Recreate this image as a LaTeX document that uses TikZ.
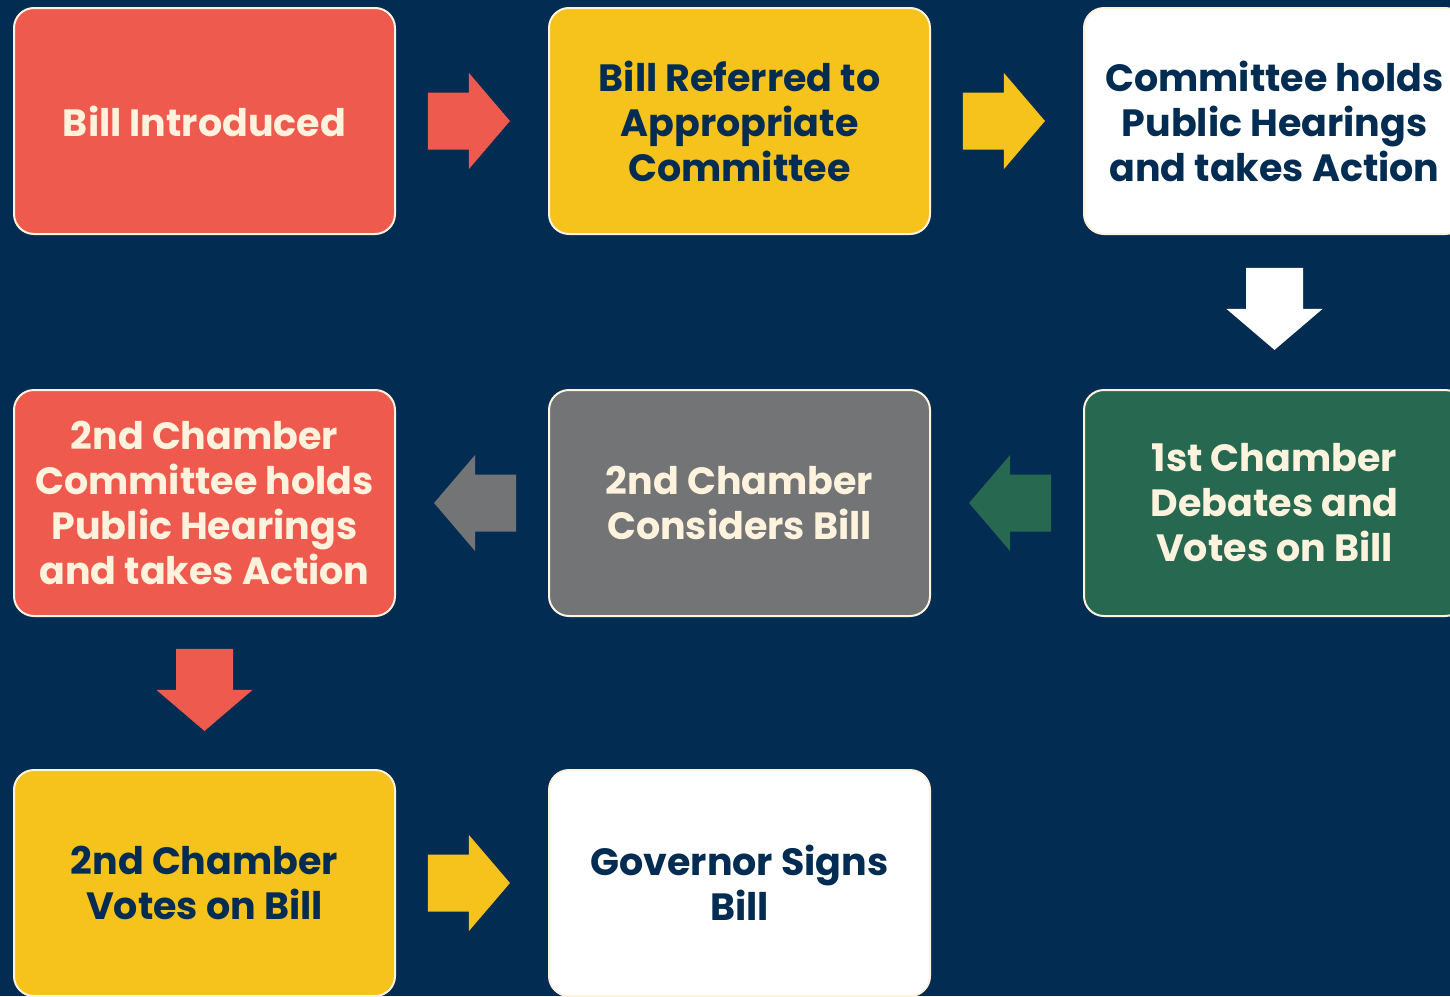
\documentclass[tikz,border=0pt]{standalone}
\usepackage{fontspec}
\setmainfont{Poppins}
\usetikzlibrary{positioning}
\definecolor{navyblue}{RGB}{2,44,82}
\definecolor{billred}{RGB}{239,90,79}
\definecolor{billyellow}{RGB}{246,194,28}
\definecolor{billgreen}{RGB}{39,104,80}
\definecolor{billgray}{RGB}{115,116,118}
\definecolor{creamtext}{RGB}{255,243,222}

\tikzset{
  stage/.style={draw=creamtext, line width=1pt, rounded corners=10pt,
    minimum width=190.5pt, minimum height=113pt, inner sep=0pt,
    align=center, font=\bfseries\fontsize{19}{22.5}\selectfont},
  lighttext/.style={text=creamtext},
  darktext/.style={text=navyblue},
}

% block arrow: colour, from, to, angle
\newcommand{\flowarrow}[4]{%
  \path (#2) -- (#3) coordinate[pos=0.48] (mid);
  \fill[#1, shift={(mid)}, rotate=#4] (-41,-28.5) -- (0,-28.5) -- (0,-48) -- (41,0) -- (0,48) -- (0,28.5) -- (-41,28.5) -- cycle;}

\begin{document}
\begin{tikzpicture}[x=0.5pt,y=-0.5pt]
%uncomment if require: \path (0,996); %diagram is 1450 by 996
\fill[navyblue] (0,0) rectangle (1450,996);
\useasboundingbox (0,0) rectangle (1450,996);
\clip (0,0) rectangle (1450,996);

%Shape: Rounded Rect [row 1]
\node[stage, fill=billred, lighttext] (introduced) at (204.5,121) {Bill Introduced};
\node[stage, fill=billyellow, darktext, right=76pt of introduced] (referred) {Bill Referred to\\Appropriate\\Committee};
\node[stage, fill=white, darktext, right=76pt of referred] (hearings) {Committee holds\\Public Hearings\\and takes Action};
%Shape: Rounded Rect [row 2]
\node[stage, fill=billgreen, lighttext, below=77pt of hearings] (firstvote) {1st Chamber\\Debates and\\Votes on Bill};
\node[stage, fill=billgray, lighttext, left=76pt of firstvote] (considers) {2nd Chamber\\Considers Bill};
\node[stage, fill=billred, lighttext, left=76pt of considers] (secondhearings) {2nd Chamber\\Committee holds\\Public Hearings\\and takes Action};
%Shape: Rounded Rect [row 3]
\node[stage, fill=billyellow, darktext, below=76pt of secondhearings] (secondvote) {2nd Chamber\\Votes on Bill};
\node[stage, fill=white, darktext, right=76pt of secondvote] (governor) {Governor Signs\\Bill};

%Shape: Block Arrows
\flowarrow{billred}{introduced.east}{referred.west}{0}
\flowarrow{billyellow}{referred.east}{hearings.west}{0}
\flowarrow{white}{hearings.south}{firstvote.north}{-90}
\flowarrow{billgreen}{firstvote.west}{considers.east}{180}
\flowarrow{billgray}{considers.west}{secondhearings.east}{180}
\flowarrow{billred}{secondhearings.south}{secondvote.north}{-90}
\flowarrow{billyellow}{secondvote.east}{governor.west}{0}

\end{tikzpicture}
\end{document}
